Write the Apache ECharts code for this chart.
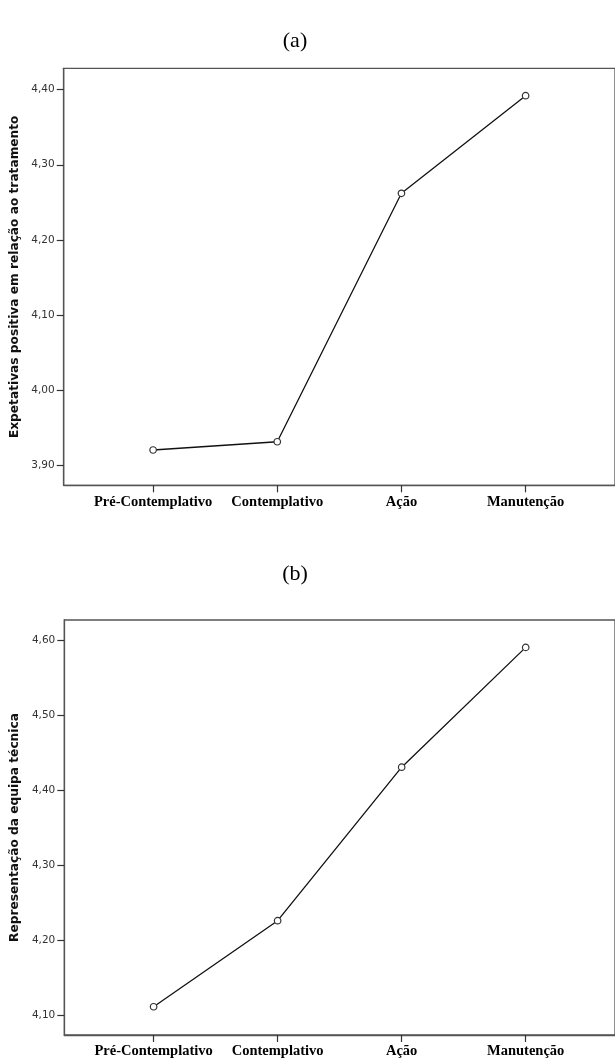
<!DOCTYPE html>
<html>
<head>
<meta charset="utf-8">
<script src="https://cdn.jsdelivr.net/npm/echarts@6/dist/echarts.min.js"></script>
<style>
html,body{margin:0;padding:0;background:#fff;}
#chart{width:615px;height:1059px;}
</style>
</head>
<body>
<div id="chart"></div>
<script>
// ---- data ----
const categories = ['Pré-Contemplativo', 'Contemplativo', 'Ação', 'Manutenção'];
const valuesA = [3.920, 3.931, 4.262, 4.392];
const valuesB = [4.111, 4.226, 4.431, 4.591];
const ticksA = [3.9, 4.0, 4.1, 4.2, 4.3, 4.4];
const ticksB = [4.1, 4.2, 4.3, 4.4, 4.5, 4.6];
const panelTitles = ['(a)', '(b)'];
const yTitles = ['Expetativas positiva em relação ao tratamento', 'Representação da equipa técnica'];

const catIdx = categories.map((c, i) => i);
const fmtY = v => v.toFixed(2).replace('.', ',');

function xAxisDef(gi) {
  return {
    type: 'value', gridIndex: gi, min: -0.72, max: 3.72,
    axisLine: {show: true, onZero: false, lineStyle: {color: '#555', width: 1.3}},
    axisTick: {show: true, customValues: catIdx, length: 7, lineStyle: {color: '#333', width: 1.2}},
    axisLabel: {
      customValues: catIdx, margin: 9,
      formatter: v => categories[Math.round(v)],
      fontFamily: 'Liberation Serif', fontWeight: 'bold', fontSize: 14.5, color: '#000'
    },
    splitLine: {show: false}
  };
}
function yAxisDef(gi, ticks, min, max, name) {
  return {
    type: 'value', gridIndex: gi, min: min, max: max,
    name: name, nameLocation: 'middle', nameGap: 41, nameRotate: 90,
    nameTextStyle: {fontFamily: 'DejaVu Sans', fontWeight: 'bold', fontSize: 12.2, color: '#111'},
    axisLine: {show: true, onZero: false, lineStyle: {color: '#555', width: 1.3}},
    axisTick: {show: true, customValues: ticks, length: 7, lineStyle: {color: '#333', width: 1.2}},
    axisLabel: {
      customValues: ticks, margin: 9, formatter: fmtY,
      fontFamily: 'DejaVu Sans', fontSize: 10.5, color: '#333'
    },
    splitLine: {show: false}
  };
}
function seriesDef(i, vals) {
  return {
    type: 'line', xAxisIndex: i, yAxisIndex: i,
    data: vals.map((v, k) => [k, v]),
    symbol: 'circle', symbolSize: 6.5, showSymbol: true,
    lineStyle: {color: '#111', width: 1.3},
    itemStyle: {color: '#fff', borderColor: '#333', borderWidth: 1.2},
    emphasis: {disabled: true}, silent: true, animation: false
  };
}

const chart = echarts.init(document.getElementById('chart'), null, {renderer: 'canvas'});
chart.setOption({
  backgroundColor: '#fff',
  animation: false,
  title: [
    {text: panelTitles[0], left: 290, top: 25, textAlign: 'center',
     textStyle: {fontFamily: 'Liberation Serif', fontWeight: 'normal', fontSize: 22, color: '#000'}},
    {text: panelTitles[1], left: 290, top: 558, textAlign: 'center',
     textStyle: {fontFamily: 'Liberation Serif', fontWeight: 'normal', fontSize: 22, color: '#000'}}
  ],
  grid: [
    {left: 63.7, top: 68.3, width: 552.4, height: 417, show: true, borderColor: '#555', borderWidth: 1.3, containLabel: false},
    {left: 64.3, top: 620, width: 558.2, height: 415.3, show: true, borderColor: '#555', borderWidth: 1.3, containLabel: false}
  ],
  xAxis: [xAxisDef(0), xAxisDef(1)],
  yAxis: [
    yAxisDef(0, ticksA, 3.873, 4.4285, yTitles[0]),
    yAxisDef(1, ticksB, 4.0733, 4.6276, yTitles[1])
  ],
  series: [seriesDef(0, valuesA), seriesDef(1, valuesB)]
});
</script>
</body>
</html>
